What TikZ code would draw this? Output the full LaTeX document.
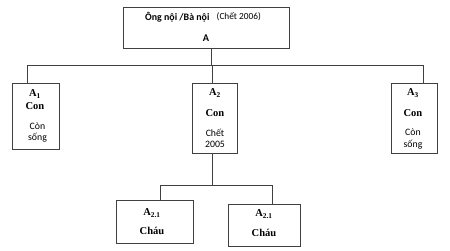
\documentclass[tikz,border=0pt]{standalone}
\usepackage{fontspec}
\setmainfont{Liberation Serif}
\newfontfamily\calfont{Carlito}
\begin{document}
\begin{tikzpicture}[x=1pt,y=-1pt,
  box/.style={draw=black!75,line width=0.8pt,inner sep=0pt},
  conn/.style={draw=black!75,line width=0.8pt},
  lbl/.style={inner sep=0pt,align=center},
  ser/.style={lbl,font=\fontsize{10.5}{12}\selectfont\bfseries},
  cal/.style={lbl,font=\calfont\fontsize{9.8}{11.5}\selectfont}]
\useasboundingbox (0,0) rectangle (450,250);
% boxes
\node[box,minimum width=166pt,minimum height=41pt] (top) at (206,27.5) {};
\node[box,minimum width=47pt,minimum height=66pt] (a1) at (35.5,116) {};
\node[box,minimum width=45pt,minimum height=70pt] (a2) at (214.5,118) {};
\node[box,minimum width=46pt,minimum height=70pt] (a3) at (414,118) {};
\node[box,minimum width=77pt,minimum height=43pt] (b1) at (154.5,221.5) {};
\node[box,minimum width=72pt,minimum height=42pt] (b2) at (264,225) {};
% texts
\node[lbl,anchor=west,font=\calfont\fontsize{9.9}{12}\selectfont\bfseries] (t1) at (145,17) {Ông nội /Bà nội};
\node[lbl,anchor=west,font=\calfont\fontsize{9.3}{12}\selectfont] (t2) at (216.5,17) {(Chết 2006)};
\node[lbl,font=\calfont\fontsize{10.3}{12}\selectfont\bfseries] (t3) at (206,38) {A};
\node[ser] (a1n) at (35,94) {A\textsubscript{1}};
\node[ser] (a1c) at (35,106) {Con};
\node[cal] (a1s) at (37.5,132.5) {Còn\\sống};
\node[ser] (a2n) at (215,93) {A\textsubscript{2}};
\node[ser] (a2c) at (215,113) {Con};
\node[cal] (a2s) at (215,138.5) {Chết\\2005};
\node[ser] (a3n) at (413,93) {A\textsubscript{3}};
\node[ser] (a3c) at (413,113) {Con};
\node[cal] (a3s) at (413,139) {Còn\\sống};
\node[ser] (b1n) at (152,213) {A\textsubscript{2.1}};
\node[ser] (b1c) at (152,231) {Cháu};
\node[ser] (b2n) at (264,214) {A\textsubscript{2.1}};
\node[ser] (b2c) at (264,233) {Cháu};
% connectors
\coordinate (j1) at (211,65);
\coordinate (l1) at (27,65);
\coordinate (l3) at (423,65);
\coordinate (l2) at (212,65);
\draw[conn] (top.south -| j1) -- (j1);
\draw[conn] (l1) -- (l3);
\draw[conn] (l1) -- (l1 |- a1.north);
\draw[conn] (l2) -- (l2 |- a2.north);
\draw[conn] (l3) -- (l3 |- a3.north);
\coordinate (j2) at (212,185);
\coordinate (m1) at (160,185);
\coordinate (m2) at (272,185);
\draw[conn] (j2 |- a2.south) -- (j2);
\draw[conn] (m1) -- (m2);
\draw[conn] (m1) -- (m1 |- b1.north);
\draw[conn] (m2) -- (m2 |- b2.north);
\end{tikzpicture}
\end{document}
